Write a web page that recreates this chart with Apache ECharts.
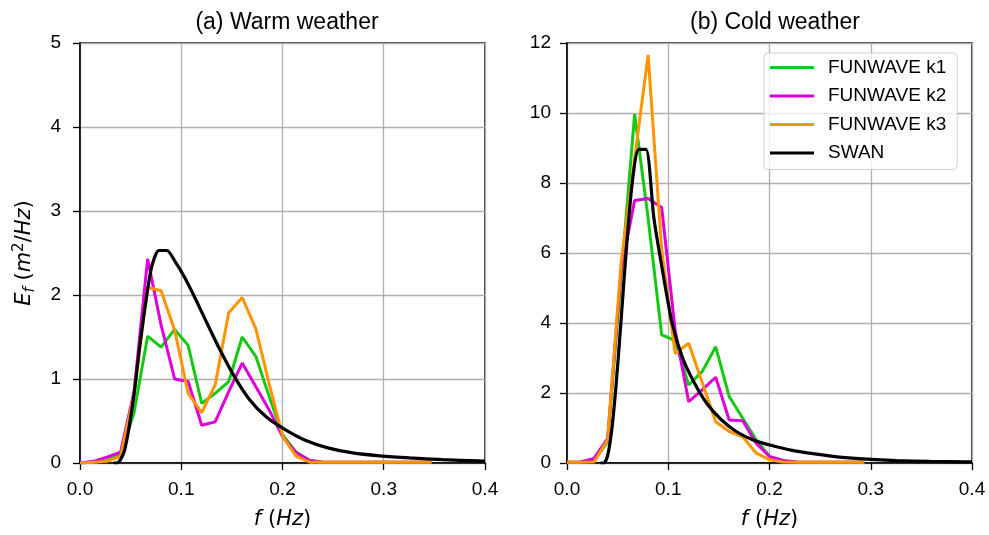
<!DOCTYPE html>
<html>
<head>
<meta charset="utf-8">
<script src="https://cdn.jsdelivr.net/npm/echarts@6/dist/echarts.min.js"></script>
<style>html,body{margin:0;padding:0;background:#fff}#c{width:989px;height:535px}</style>
</head>
<body>
<div id="c"></div>
<script>
// FUNWAVE frequency bins (Hz)
var FW_FREQ = [0, 0.0134, 0.0267, 0.0401, 0.0534, 0.0668, 0.0801, 0.0935, 0.1068, 0.1202, 0.1335, 0.1469, 0.1602, 0.1736, 0.1869, 0.2003, 0.2136, 0.2270, 0.2403, 0.2537, 0.2670, 0.2804, 0.2937, 0.3071, 0.3204, 0.3338, 0.3471];
// SWAN frequency bins (Hz)
var SWAN_FREQ = [0.0331, 0.0364, 0.04, 0.044, 0.0484, 0.0532, 0.0586, 0.0644, 0.0709, 0.078, 0.0858, 0.0943, 0.1038, 0.1142, 0.1256, 0.1381, 0.1519, 0.1671, 0.1838, 0.2022, 0.2225, 0.2447, 0.2692, 0.2961, 0.3257, 0.3583, 0.3941, 0.4];

// (a) Warm weather
var WARM_K1 = [0, 0.01, 0.03, 0.10, 0.60, 1.51, 1.38, 1.59, 1.40, 0.71, 0.83, 0.97, 1.50, 1.27, 0.79, 0.33, 0.13, 0.03, 0.01, 0.01, 0.01, 0.01, 0.01, 0.01, 0.01, 0.01, 0.01];
var WARM_K2 = [0, 0.02, 0.07, 0.13, 0.85, 2.43, 1.64, 1.00, 0.97, 0.45, 0.49, 0.85, 1.19, 0.91, 0.63, 0.31, 0.12, 0.03, 0.01, 0.01, 0.01, 0.01, 0.01, 0.01, 0.01, 0.01, 0.01];
var WARM_K3 = [0, 0.01, 0.02, 0.08, 0.82, 2.09, 2.05, 1.58, 0.83, 0.60, 0.93, 1.79, 1.97, 1.60, 0.94, 0.31, 0.08, 0.01, 0.01, 0.01, 0.01, 0.01, 0.01, 0.01, 0.01, 0.01, 0.01];
var WARM_SWAN = [0, 0, 0.04, 0.15, 0.42, 0.80, 1.35, 1.87, 2.34, 2.53, 2.53, 2.39, 2.20, 1.95, 1.66, 1.35, 1.04, 0.76, 0.55, 0.40, 0.27, 0.18, 0.12, 0.085, 0.06, 0.04, 0.025, 0.022];

// (b) Cold weather
var COLD_K1 = [0.02, 0.03, 0.06, 0.60, 5.30, 9.97, 7.00, 3.66, 3.50, 2.23, 2.61, 3.32, 1.90, 1.28, 0.66, 0.18, 0.06, 0.03, 0.02, 0.02, 0.02, 0.02, 0.02];
var COLD_K2 = [0.02, 0.03, 0.13, 0.70, 5.50, 7.50, 7.56, 7.30, 3.80, 1.75, 2.09, 2.45, 1.23, 1.21, 0.56, 0.18, 0.07, 0.03, 0.02, 0.02, 0.02, 0.02, 0.02];
var COLD_K3 = [0.02, 0.02, 0.03, 0.66, 5.70, 8.70, 11.66, 6.10, 3.13, 3.42, 2.30, 1.18, 0.90, 0.75, 0.28, 0.09, 0.03, 0.02, 0.02, 0.02, 0.02, 0.02, 0.02];
var COLD_SWAN = [0, 0, 0.2, 0.9, 2.2, 4.0, 6.1, 8.0, 8.96, 8.96, 7.0, 5.5, 4.0, 3.0, 2.3, 1.7, 1.25, 0.9, 0.66, 0.5, 0.36, 0.26, 0.17, 0.11, 0.07, 0.048, 0.033, 0.03];

var TITLES = ['(a) Warm weather', '(b) Cold weather'];
var NAMES = ['FUNWAVE k1', 'FUNWAVE k2', 'FUNWAVE k3', 'SWAN'];
var COLORS = ['#14c814', '#dd00dd', '#ff9400', '#000000'];

function pairs(xs, ys) {
  var out = [];
  for (var i = 0; i < ys.length; i++) out.push([xs[i], ys[i]]);
  return out;
}

var FONT = '"Liberation Sans", Arial, sans-serif';
var MATH = '"DejaVu Sans", sans-serif';
var chart = echarts.init(document.getElementById('c'), null, {renderer: 'canvas'});

function xAxisDef(idx) {
  return {
    type: 'value', gridIndex: idx, min: 0, max: 0.4, interval: 0.1,
    axisLine: {show: true, onZero: false, lineStyle: {color: '#000', width: 1.5}},
    axisTick: {show: true, length: 7, lineStyle: {color: '#000', width: 1.3}},
    axisLabel: {color: '#000', fontSize: 19, fontFamily: FONT, margin: 17,
      formatter: function (v) { return v.toFixed(1); }},
    splitLine: {show: true, lineStyle: {color: '#b0b0b0', width: 1.3}},
    name: '{i|f} {n|(}{i|Hz}{n|)}', nameLocation: 'middle', nameGap: 46,
    nameTextStyle: {fontFamily: MATH, fontSize: 21, color: '#000',
      rich: {i: {fontStyle: 'italic', fontSize: 21, fontFamily: MATH, color: '#000'},
             n: {fontSize: 21, fontFamily: MATH, color: '#000'}}}
  };
}
function yAxisDef(idx, max, interval, withName, margin) {
  var a = {
    type: 'value', gridIndex: idx, min: 0, max: max, interval: interval,
    axisLine: {show: true, lineStyle: {color: '#000', width: 1.5}},
    axisTick: {show: true, length: 7, lineStyle: {color: '#000', width: 1.3}},
    axisLabel: {color: '#000', fontSize: 19, fontFamily: FONT, margin: margin},
    splitLine: {show: true, lineStyle: {color: '#b0b0b0', width: 1.3}}
  };
  if (withName) {
    a.name = '{i|E}{sub|f}{n| (}{i|m}{sup|2}{n|/}{i|Hz}{n|)}';
    a.nameLocation = 'middle';
    a.nameGap = 42;
    a.nameTextStyle = {fontFamily: MATH, fontSize: 21, color: '#000',
      rich: {
        i: {fontStyle: 'italic', fontSize: 21, fontFamily: MATH, color: '#000', lineHeight: 26},
        n: {fontSize: 21, fontFamily: MATH, color: '#000', lineHeight: 26},
        sub: {fontStyle: 'italic', fontSize: 15, fontFamily: MATH, color: '#000', verticalAlign: 'bottom', lineHeight: 26, padding: [7, 0, 0, 0]},
        sup: {fontSize: 15, fontFamily: MATH, color: '#000', verticalAlign: 'top', lineHeight: 26, padding: [0, 0, 9, 0]}
      }};
  }
  return a;
}

var warm = [WARM_K1, WARM_K2, WARM_K3];
var cold = [COLD_K1, COLD_K2, COLD_K3];
var series = [];
[warm, cold].forEach(function (set, g) {
  for (var k = 0; k < 3; k++) {
    series.push({type: 'line', name: NAMES[k], xAxisIndex: g, yAxisIndex: g,
      data: pairs(FW_FREQ, set[k]), showSymbol: false, symbol: 'none',
      lineStyle: {color: COLORS[k], width: 3}, itemStyle: {color: COLORS[k]}, z: 2 + k});
  }
  series.push({type: 'line', name: NAMES[3], xAxisIndex: g, yAxisIndex: g,
    data: pairs(SWAN_FREQ, g === 0 ? WARM_SWAN : COLD_SWAN), showSymbol: false, symbol: 'none',
    smooth: 0.25,
    lineStyle: {color: COLORS[3], width: 3.2}, itemStyle: {color: COLORS[3]}, z: 6});
});

chart.setOption({
  animation: false,
  backgroundColor: '#fff',
  title: [
    {text: TITLES[0], left: 282, top: 6, textAlign: 'center',
     textStyle: {fontFamily: FONT, fontSize: 23, fontWeight: 'normal', color: '#000'}},
    {text: TITLES[1], left: 770, top: 6, textAlign: 'center',
     textStyle: {fontFamily: FONT, fontSize: 23, fontWeight: 'normal', color: '#000'}}
  ],
  legend: {
    orient: 'vertical', left: 764, top: 53, data: NAMES,
    icon: 'rect', itemWidth: 44, itemHeight: 3, itemGap: 9.5,
    padding: [5, 11, 7, 6],
    backgroundColor: 'rgba(255,255,255,0.8)', borderColor: '#d0d0d0', borderWidth: 1, borderRadius: 4,
    textStyle: {fontFamily: FONT, fontSize: 19, lineHeight: 19, color: '#000', padding: [0, 0, 0, 9]}
  },
  grid: [
    {left: 80, top: 43, width: 405, height: 420, show: true, borderColor: '#000', borderWidth: 1.5, backgroundColor: 'transparent', containLabel: false, outerBoundsMode: 'none'},
    {left: 567, top: 43, width: 405, height: 420, show: true, borderColor: '#000', borderWidth: 1.5, backgroundColor: 'transparent', containLabel: false, outerBoundsMode: 'none'}
  ],
  xAxis: [xAxisDef(0), xAxisDef(1)],
  yAxis: [yAxisDef(0, 5, 1, true, 19), yAxisDef(1, 12, 2, false, 16)],
  series: series
});
</script>
</body>
</html>
